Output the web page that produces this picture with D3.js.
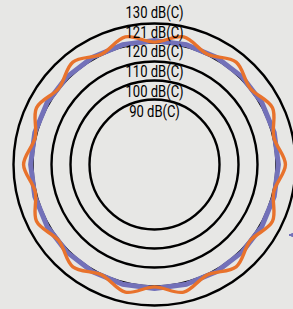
<!DOCTYPE html>
<html><head><meta charset="utf-8">
<script src="https://cdn.jsdelivr.net/npm/d3@7"></script>
<style>html,body{margin:0;padding:0;background:#e7e7e5;overflow:hidden}</style>
</head><body><svg id="c" width="293" height="309"></svg>
<script>
// ---- data ----
const gridLevels = [90, 100, 110, 120, 130];
const labelTexts = ["130 dB(C)", "121 dB(C)", "120 dB(C)", "110 dB(C)", "100 dB(C)", "90 dB(C)"];
const blueAngles = [0, 15, 30, 45, 60, 75, 90, 105, 120, 135, 150, 165, 180, 195, 210, 225, 240, 255, 270, 285, 300, 315, 330, 345];
const blueValues = [121, 121, 121, 121, 121, 121, 121, 121, 121, 121, 121, 121, 121, 121, 121, 121, 121, 121, 121, 121, 121, 121, 121, 121];
const orangeAngles = [0, 12.86, 25.71, 38.57, 51.43, 64.29, 77.14, 90, 102.86, 115.71, 128.57, 141.43, 154.29, 167.14, 180, 192.86, 205.71, 218.57, 231.43, 244.29, 257.14, 270, 282.86, 295.71, 308.57, 321.43, 334.29, 347.14];
const orangeValues = [120.2, 124.7, 120.2, 124.7, 120.2, 124.7, 120.2, 124.7, 120.2, 124.7, 120.2, 124.7, 120.2, 124.7, 120.2, 124.7, 120.2, 124.7, 120.2, 124.7, 120.2, 124.7, 120.2, 124.7, 120.2, 124.7, 120.2, 124.7];

// ---- drawing ----
const W = 293, H = 309, cx = 154.5, cy = 164.5;
const svg = d3.select("#c");
svg.append("rect").attr("width", W).attr("height", H).attr("fill", "#e7e7e5");
const r = d3.scaleLinear().domain([90, 130]).range([65, 141]);
const ang = d3.scaleLinear().domain([0, 360]).range([0, 2 * Math.PI]);
const g = svg.append("g").attr("transform", `translate(${cx},${cy})`);

g.selectAll("circle.grid").data(gridLevels).join("circle")
  .attr("class", "grid").attr("r", d => r(d))
  .attr("fill", "none").attr("stroke", "#000").attr("stroke-width", 2.4);

const blueLine = d3.lineRadial().angle(d => ang(d[0])).radius(d => r(d[1])).curve(d3.curveLinearClosed);
g.append("path").datum(blueAngles.map((a, i) => [a, blueValues[i]]))
  .attr("d", blueLine).attr("fill", "none").attr("stroke", "#7371b9").attr("stroke-width", 5).attr("stroke-linejoin", "round");

const orangeLine = d3.lineRadial().angle(d => ang(d[0])).radius(d => r(d[1])).curve(d3.curveCatmullRomClosed.alpha(0.5));
g.append("path").datum(orangeAngles.map((a, i) => [a, orangeValues[i]]))
  .attr("d", orangeLine).attr("fill", "none").attr("stroke", "#e8722c").attr("stroke-width", 3.4);

const ly = d3.scaleLinear().domain([0, labelTexts.length - 1]).range([18, 116.5]);
const labs = svg.selectAll("text.lab").data(labelTexts).join("text")
  .attr("class", "lab").attr("x", cx).attr("y", (d, i) => ly(i))
  .attr("text-anchor", "middle")
  .attr("font-family", "Roboto, sans-serif")
  .attr("font-size", 16.5).attr("fill", "#000").text(d => d);
// condense glyphs horizontally (reference uses a condensed face)
const k = 58 / labs.node().getComputedTextLength();
labs.each(function () {
  const w = this.getComputedTextLength();
  d3.select(this).attr("textLength", w * k).attr("lengthAdjust", "spacingAndGlyphs");
});

// partial legend marker at right edge
svg.append("line").attr("x1", 289).attr("x2", 296).attr("y1", 235).attr("y2", 235).attr("stroke", "#7371b9").attr("stroke-width", 2);
svg.append("circle").attr("cx", 292.5).attr("cy", 235).attr("r", 2).attr("fill", "#7371b9");
</script></body></html>
